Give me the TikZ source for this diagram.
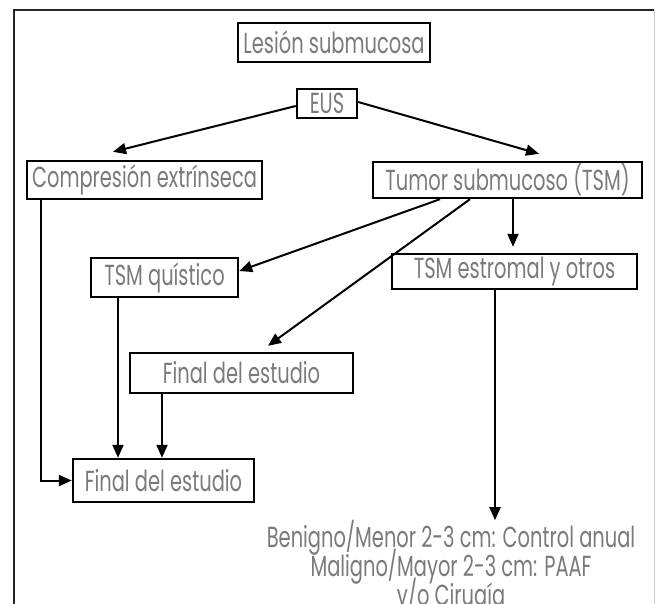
\documentclass[tikz,border=0pt]{standalone}
\usepackage{fontspec}
\setmainfont{Poppins}[FakeStretch=0.67]
\usetikzlibrary{arrows.meta}
\newcommand\letrafin{\fontsize{29}{23}\selectfont\lineskiplimit-100pt\relax}
\tikzset{flecha/.style = {-{Triangle[length=13pt,width=11pt]}, line width=2pt}}
\tikzset{caja/.style = {draw, line width=2.4pt, inner sep=0, font=\fontsize{29}{24}\selectfont, text=black!52}}

\begin{document}
\begin{tikzpicture}[x=1pt,y=-1pt,
    texto/.style={inner sep=0, align=center, text=black!52, font=\letrafin},
    ]
    \useasboundingbox (0,0) rectangle (655,604);
    % Marco
    \draw[line width=2.5pt,black!85] (14,604) -- (14,10) -- (654,10);
    \draw[line width=1pt,black!20] (654,10) -- (654,604);

    % Cajas
    \node[caja,minimum width=192,minimum height=39] (lesion) at (334,42.5) {Lesión submucosa};
    \node[caja,minimum width=60,minimum height=29] (eus) at (327,103.5) {EUS};
    \node[caja,minimum width=235,minimum height=38] (comp) at (144.5,180) {Compresión extrínseca};
    \node[caja,minimum width=269,minimum height=36] (tumor) at (507.5,180) {Tumor submucoso (TSM)};
    \node[caja,minimum width=147,minimum height=39] (quis) at (164.5,277.5) {TSM quístico};
    \node[caja,minimum width=245,minimum height=35] (estr) at (514.5,271.5) {TSM estromal y otros};
    \node[caja,minimum width=223,minimum height=40] (fin1) at (241.5,373) {Final del estudio};
    \node[caja,minimum width=181,minimum height=43] (fin2) at (163.5,480.5) {Final del estudio};
    \node[texto,anchor=north] (manejo) at (451,520) {Benigno/Menor 2-3 cm: Control anual\\[6pt]Maligno/Mayor 2-3 cm: PAAF\\[6pt]y/o Cirugía};

    % Flechas
    \draw[flecha] ([yshift=-2.5pt]eus.west) -- ([xshift=-31.5pt,yshift=8pt]comp.north);
    \draw[flecha] ([yshift=1.5pt]eus.east) -- ([xshift=31.5pt,yshift=7pt]tumor.north);
    \draw[flecha] ([xshift=-67.5pt]tumor.south) -- ([yshift=6.5pt]quis.east);
    \draw[flecha] ([xshift=-37.5pt]tumor.south) -- ([xshift=26.5pt,yshift=6pt]fin1.north);
    \draw[flecha] ([xshift=5.5pt]tumor.south) -- ([xshift=-1.5pt,yshift=6pt]estr.north);
    \draw[flecha] ([xshift=-103.5pt]comp.south) |- (fin2.west);
    \draw[flecha] ([xshift=-46.5pt]quis.south) -- ([xshift=-46.5pt]quis.south |- fin2.north);
    \draw[flecha] ([xshift=-79.5pt]fin1.south) -- ([xshift=-79.5pt]fin1.south |- fin2.north);
    \draw[flecha] ([xshift=-19.5pt]estr.south) -- ([xshift=-19.5pt,yshift=-230pt]estr.south);
\end{tikzpicture}
\end{document}
